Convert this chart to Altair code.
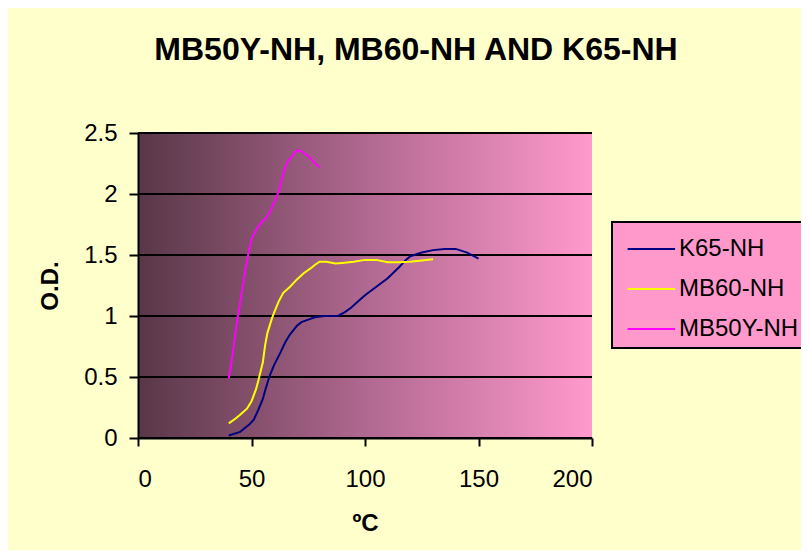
import altair as alt
import pandas as pd

k65_x = [40, 45, 49, 51, 53, 55, 56, 58, 60, 63, 65, 67, 70, 72, 75, 78, 82, 88, 91, 94, 97, 100, 105, 110, 115, 118, 120, 125, 130, 135, 140, 145, 150]
k65_y = [0.02, 0.05, 0.11, 0.15, 0.23, 0.32, 0.39, 0.51, 0.60, 0.71, 0.79, 0.85, 0.92, 0.95, 0.97, 0.99, 1.0, 1.0, 1.03, 1.07, 1.12, 1.17, 1.24, 1.31, 1.40, 1.46, 1.49, 1.52, 1.54, 1.55, 1.55, 1.52, 1.47]

mb60_x = [40, 43, 45, 48, 50, 52, 53, 55, 56, 57, 59, 60, 62, 64, 67, 70, 73, 76, 78, 80, 83, 87, 90, 95, 100, 105, 110, 115, 120, 125, 130]
mb60_y = [0.12, 0.16, 0.19, 0.24, 0.30, 0.40, 0.47, 0.62, 0.76, 0.86, 0.98, 1.03, 1.12, 1.19, 1.24, 1.30, 1.35, 1.39, 1.42, 1.445, 1.445, 1.43, 1.435, 1.445, 1.46, 1.46, 1.44, 1.44, 1.445, 1.455, 1.465]

mb50_x = [40, 41, 42.5, 44, 46, 47, 49, 50, 52, 54, 56, 58, 60, 62, 64, 66, 68, 70, 72, 75, 78, 80]
mb50_y = [0.49, 0.60, 0.80, 1.0, 1.22, 1.35, 1.55, 1.63, 1.70, 1.76, 1.79, 1.85, 1.93, 2.02, 2.17, 2.27, 2.31, 2.36, 2.35, 2.31, 2.25, 2.22]

series_names = ["K65-NH", "MB60-NH", "MB50Y-NH"]
series_colors = ["#000080", "#FFFF00", "#FF00FF"]
y_ticks = [0, 0.5, 1, 1.5, 2, 2.5]
x_ticks = [0, 50, 100, 150, 200]

rows = []
for name, xs, ys in [("K65-NH", k65_x, k65_y), ("MB60-NH", mb60_x, mb60_y), ("MB50Y-NH", mb50_x, mb50_y)]:
    for i, (xv, yv) in enumerate(zip(xs, ys)):
        rows.append({"series": name, "t": xv, "od": yv, "order": i})
df = pd.DataFrame(rows)
grid_df = pd.DataFrame({"g": y_ticks})

W, H = 454, 305
FONT = "Liberation Sans"
FS = 24

xscale = alt.Scale(domain=[0, 200], nice=False)
yscale = alt.Scale(domain=[0, 2.5], nice=False)

yaxis = alt.Axis(values=y_ticks, format="~g", grid=False, domainColor="black", domainWidth=2,
                 tickColor="black", tickWidth=2, tickSize=9, labelPadding=12,
                 labelFontSize=FS, labelFont=FONT, labelColor="black",
                 titleFont=FONT, titleFontSize=FS, titleFontWeight="bold",
                 titlePadding=21, titleColor="black", zindex=1)
xaxis = alt.Axis(values=x_ticks, grid=False, domainColor="black", domainWidth=2,
                 tickColor="black", tickWidth=2, tickSize=8, labelPadding=21,
                 labelFontSize=FS, labelFont=FONT, labelColor="black",
                 titleFont=FONT, titleFontSize=FS, titleFontWeight="bold",
                 titlePadding=20, titleColor="black", zindex=1)

bg = alt.Chart(alt.Data(values=[{"a": 1}])).mark_rect(
    color=alt.LinearGradient(
        gradient="linear",
        stops=[alt.GradientStop(color="#583747", offset=0),
               alt.GradientStop(color="#B06890", offset=0.5),
               alt.GradientStop(color="#FF9ACC", offset=1)],
        x1=0, x2=1, y1=0, y2=0),
).encode(x=alt.value(0), x2=alt.value(W), y=alt.value(0), y2=alt.value(H))

grid = alt.Chart(grid_df).mark_rule(color="black", strokeWidth=2).encode(
    y=alt.Y("g:Q", scale=yscale, axis=yaxis, title="O.D.")
)

lines = alt.Chart(df).mark_line(strokeWidth=2).encode(
    x=alt.X("t:Q", scale=xscale, title="ºC", axis=xaxis),
    y=alt.Y("od:Q", scale=yscale, title="O.D.", axis=yaxis),
    color=alt.Color("series:N", scale=alt.Scale(domain=series_names, range=series_colors),
                    legend=alt.Legend(title=None, orient="none", legendX=474, legendY=89,
                                      fillColor="#FF99CC", strokeColor="black",
                                      symbolType="M-0.6,0H1.9", symbolStrokeWidth=2, symbolSize=1444,
                                      labelFont=FONT, labelFontSize=24, labelColor="black",
                                      labelLimit=300, labelOffset=20, padding=7, rowPadding=8,
                                      cornerRadius=0)),
    order="order:Q",
)

chart = alt.layer(bg, grid, lines).properties(
    width=W, height=H,
    title=alt.TitleParams("MB50Y-NH, MB60-NH AND K65-NH", font=FONT, fontSize=32,
                          fontWeight="bold", color="black", dx=51, offset=54, anchor="middle"),
    background="#FFFFCC",
    padding={"left": 130, "top": 125, "right": 209, "bottom": 112},
    autosize=alt.AutoSizeParams(type="none"),
).configure_view(stroke=None).configure_legend(strokeWidth=2)

chart.save("out.html", embed_options={"renderer": "svg", "actions": False})
